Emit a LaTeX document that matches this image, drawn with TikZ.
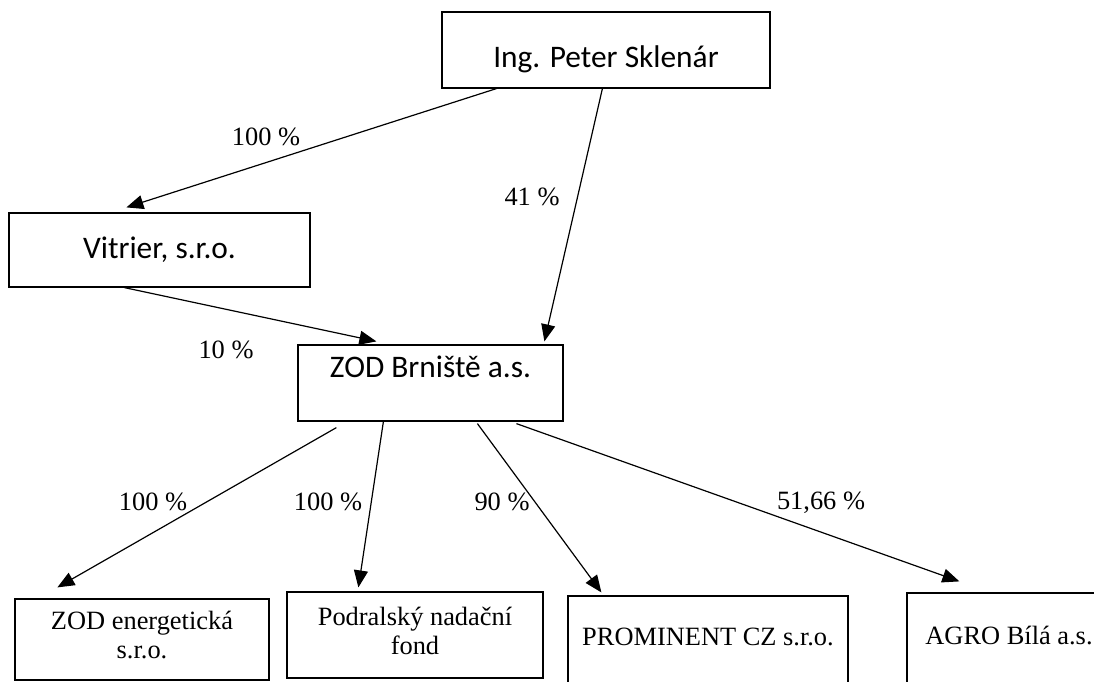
\documentclass[tikz,border=0pt]{standalone}
\usepackage{fontspec}
\setmainfont{Liberation Serif}
\newfontfamily\calibri{Carlito}
\usetikzlibrary{arrows.meta}
\begin{document}
\begin{tikzpicture}[
    x=1bp, y=-1bp,
    box/.style={rectangle, draw, line width=1.2bp, inner sep=0pt, align=center},
    owner/.style={box, font=\calibri\fontsize{31.5}{36}\selectfont},
    firm/.style={box, font=\fontsize{26.5}{29}\selectfont},
    share/.style={font=\fontsize{26.5}{30}\selectfont},
    arrow/.style={-{Triangle[length=17bp,width=14bp]}, line width=1.2bp}
]
    \useasboundingbox (0,0) rectangle (1094,682);

    \node[owner, minimum width=328bp, minimum height=76bp, text height=40bp, text depth=4bp] (sklenar) at (606,50) {Ing. Peter Sklenár};
    \node[owner, minimum width=301bp, minimum height=74bp] (vitrier) at (159.5,250) {Vitrier, s.r.o.};
    \node[owner, minimum width=265bp, minimum height=76bp, text height=22bp, text depth=34bp] (zod) at (430.5,383) {ZOD Brniště a.s.};

    \node[firm, minimum width=254bp, minimum height=81bp] (energ) at (142,639.5) {ZOD energetická\\s.r.o.\\[-20bp]};
    \node[firm, minimum width=256bp, minimum height=86bp] (podral) at (415,635) {Podralský nadační\\fond\\[-20bp]};
    \node[firm, minimum width=280bp, minimum height=94bp, text depth=12bp] (prom) at (708,643) {PROMINENT CZ s.r.o.};
    \node[firm, minimum width=204bp, minimum height=97bp, text depth=12bp] (agro) at (1009,641.5) {AGRO Bílá a.s.};

    \draw[arrow] ([xshift=55bp]sklenar.south west) -- ([xshift=118bp,yshift=5bp]vitrier.north west);
    \draw[arrow] ([xshift=161bp]sklenar.south west) -- ([xshift=247bp,yshift=3bp]zod.north west);
    \draw[arrow] ([xshift=116bp]vitrier.south west) -- ([xshift=79bp,yshift=3bp]zod.north west);
    \draw[arrow] ([xshift=39bp,yshift=-6bp]zod.south west) -- ([xshift=43bp,yshift=11bp]energ.north west);
    \draw[arrow] ([xshift=86bp]zod.south west) -- ([xshift=72bp,yshift=4bp]podral.north west);
    \draw[arrow] ([xshift=180bp,yshift=-2bp]zod.south west) -- ([xshift=34bp,yshift=3bp]prom.north west);
    \draw[arrow] ([xshift=219bp,yshift=-2bp]zod.south west) -- ([xshift=53bp,yshift=11bp]agro.north west);

    \node[share] (s1) at (266,137) {100 \%};
    \node[share] (s2) at (532,197) {41 \%};
    \node[share] (s3) at (226,350) {10 \%};
    \node[share] (s4) at (153,502) {100 \%};
    \node[share] (s5) at (328,502) {100 \%};
    \node[share] (s6) at (502,502) {90 \%};
    \node[share] (s7) at (821,503) {51,66 \%};
\end{tikzpicture}
\end{document}
